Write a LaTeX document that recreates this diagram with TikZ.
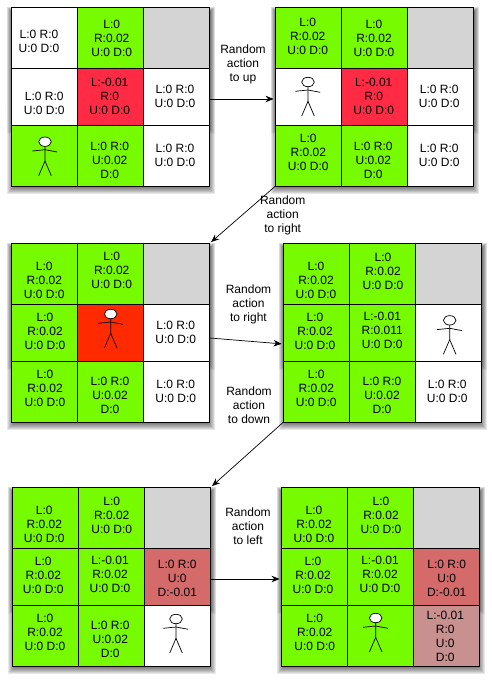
\documentclass[tikz,border=0pt]{standalone}
\usepackage{xcolor}
\usepackage{fontspec}
\setmainfont{Liberation Sans}
\usetikzlibrary{arrows.meta,backgrounds}

\definecolor{rewardgreen}{HTML}{76FB00}
\definecolor{crimsoncell}{HTML}{FF2B45}
\definecolor{hotcell}{HTML}{FF2A00}
\definecolor{pinkcell}{HTML}{D46A6A}
\definecolor{dustycell}{HTML}{C99090}
\definecolor{wallgray}{HTML}{D4D4D4}

\tikzset{
	cellbox/.style={draw,fill=white,line width=0.9pt,minimum width=66pt,inner sep=0pt},
	rowa/.style={cellbox,minimum height=61pt},
	rowb/.style={cellbox,minimum height=57pt},
	rowc/.style={cellbox,minimum height=60.5pt},
	celltext/.style={align=center,inner sep=0pt,font=\fontsize{12}{14}\selectfont},
	actionlabel/.style={align=center,inner sep=0pt,font=\fontsize{12}{14}\selectfont},
	actionarrow/.style={-{Stealth[length=8pt,width=6.5pt]},line width=0.7pt,shorten >=1.5pt},
	stickman/.pic={
		\draw[line width=0.7pt] (0,4.7) -- (0,19.3) -- (-6.3,34);
		\draw[line width=0.7pt] (0,19.3) -- (6.3,34);
		\draw[line width=0.7pt] (-12.7,9.3) -- (0,8) -- (12.2,10.3);
		\draw[line width=0.7pt,fill=white] (0,0) ellipse (6.3 and 4.7);
	}
}

% one cell of a grid: name, style, centre, text centre, text
\newcommand{\gridcell}[5]{%
	\node[#2] (#1) at (#3) {};
	\node[celltext] (#1t) at (#4) {#5};
}

% soft shadow under a block of cells
\newcommand{\gridshadow}[3]{%
	\begin{scope}[on background layer]
		\foreach \d in {-4,...,3} {
			\fill[black,opacity=#3] ([xshift=\d pt,yshift={-4pt-(\d pt)}]#1.north west)
				rectangle ([xshift={1pt-(\d pt)},yshift={-4pt+(\d pt)}]#2.south east);
		}
	\end{scope}
}

\begin{document}
\begin{tikzpicture}[x=1pt,y=-1pt]

\useasboundingbox (0,0) rectangle (492,682);

% first grid
\gridcell{a11}{rowa}{44.5,38}{39,41.7}{L:0 R:0\\U:0 D:0}
\gridcell{a12}{rowa,fill=rewardgreen}{110.5,38}{111.7,38.7}{L:0\\R:0.02\\U:0 D:0}
\gridcell{a13}{rowa,fill=wallgray}{176.5,38}{176.5,38}{}
\gridcell{a21}{rowb}{44.5,97}{44.3,103.7}{L:0 R:0\\U:0 D:0}
\gridcell{a22}{rowb,fill=crimsoncell}{110.5,97}{109.7,96.7}{L:-0.01\\R:0\\U:0 D:0}
\gridcell{a23}{rowb}{176.5,97}{175,96.7}{L:0 R:0\\U:0 D:0}
\gridcell{a31}{rowc,fill=rewardgreen}{44.5,155.75}{44.5,155.75}{}
\gridcell{a32}{rowc,fill=rewardgreen}{110.5,155.75}{109.7,160}{L:0 R:0\\U:0.02\\D:0}
\gridcell{a33}{rowc}{176.5,155.75}{175,155.7}{L:0 R:0\\U:0 D:0}
\pic at (45,141.7) {stickman};
\gridshadow{a11}{a33}{0.09}
\gridshadow{a11}{a23}{0.05}

% second grid
\gridcell{b11}{rowa,fill=rewardgreen}{308.5,38}{307.7,36.7}{L:0\\R:0.02\\U:0 D:0}
\gridcell{b12}{rowa,fill=rewardgreen}{374.5,38}{374,38.7}{L:0\\R:0.02\\U:0 D:0}
\gridcell{b13}{rowa,fill=wallgray}{440.5,38}{440.5,38}{}
\gridcell{b21}{rowb}{308.5,97}{308.5,97}{}
\gridcell{b22}{rowb,fill=crimsoncell}{374.5,97}{373.7,96.7}{L:-0.01\\R:0\\U:0 D:0}
\gridcell{b23}{rowb}{440.5,97}{439.3,96.7}{L:0 R:0\\U:0 D:0}
\gridcell{b31}{rowc,fill=rewardgreen}{308.5,155.75}{308.3,152.7}{L:0\\R:0.02\\U:0 D:0}
\gridcell{b32}{rowc,fill=rewardgreen}{374.5,155.75}{373.3,160}{L:0 R:0\\U:0.02\\D:0}
\gridcell{b33}{rowc}{440.5,155.75}{439.3,155.7}{L:0 R:0\\U:0 D:0}
\pic at (308,82) {stickman};
\gridshadow{b11}{b33}{0.09}
\gridshadow{b11}{b23}{0.05}

% third grid
\gridcell{c11}{rowa,fill=rewardgreen}{44.5,274}{44.3,280.7}{L:0\\R:0.02\\U:0 D:0}
\gridcell{c12}{rowa,fill=rewardgreen}{110.5,274}{111.7,270.7}{L:0\\R:0.02\\U:0 D:0}
\gridcell{c13}{rowa,fill=wallgray}{176.5,274}{176.5,274}{}
\gridcell{c21}{rowb,fill=rewardgreen}{44.5,333}{45,331.7}{L:0\\R:0.02\\U:0 D:0}
\gridcell{c22}{rowb,fill=hotcell}{110.5,333}{110.5,333}{}
\gridcell{c23}{rowb}{176.5,333}{175.7,332.7}{L:0 R:0\\U:0 D:0}
\gridcell{c31}{rowc,fill=rewardgreen}{44.5,391.75}{45,388.7}{L:0\\R:0.02\\U:0 D:0}
\gridcell{c32}{rowc,fill=rewardgreen}{110.5,391.75}{110,395.7}{L:0 R:0\\U:0.02\\D:0}
\gridcell{c33}{rowc}{176.5,391.75}{175.7,391.7}{L:0 R:0\\U:0 D:0}
\pic at (110.7,314) {stickman};
\gridshadow{c11}{c33}{0.09}
\gridshadow{c11}{c23}{0.05}

% fourth grid
\gridcell{d11}{rowa,fill=rewardgreen}{316.5,274}{316,280.7}{L:0\\R:0.02\\U:0 D:0}
\gridcell{d12}{rowa,fill=rewardgreen}{382.5,274}{383,271.7}{L:0\\R:0.02\\U:0 D:0}
\gridcell{d13}{rowa,fill=wallgray}{448.5,274}{448.5,274}{}
\gridcell{d21}{rowb,fill=rewardgreen}{316.5,333}{315,331.7}{L:0\\R:0.02\\U:0 D:0}
\gridcell{d22}{rowb,fill=rewardgreen}{382.5,333}{382.3,330.7}{L:-0.01\\R:0.011\\U:0 D:0}
\gridcell{d23}{rowb}{448.5,333}{448.5,333}{}
\gridcell{d31}{rowc,fill=rewardgreen}{316.5,391.75}{316.3,388.7}{L:0\\R:0.02\\U:0 D:0}
\gridcell{d32}{rowc,fill=rewardgreen}{382.5,391.75}{382,395.7}{L:0 R:0\\U:0.02\\D:0}
\gridcell{d33}{rowc}{448.5,391.75}{447.3,391.7}{L:0 R:0\\U:0 D:0}
\pic at (449.7,320.3) {stickman};
\gridshadow{d11}{d33}{0.09}
\gridshadow{d11}{d23}{0.05}

% fifth grid
\gridcell{e11}{rowa,fill=rewardgreen}{45.5,518}{44.3,524.7}{L:0\\R:0.02\\U:0 D:0}
\gridcell{e12}{rowa,fill=rewardgreen}{111.5,518}{111.7,515.7}{L:0\\R:0.02\\U:0 D:0}
\gridcell{e13}{rowa,fill=wallgray}{177.5,518}{177.5,518}{}
\gridcell{e21}{rowb,fill=rewardgreen}{45.5,577}{43.3,575.7}{L:0\\R:0.02\\U:0 D:0}
\gridcell{e22}{rowb,fill=rewardgreen}{111.5,577}{110,574.7}{L:-0.01\\R:0.02\\U:0 D:0}
\gridcell{e23}{rowb,fill=pinkcell}{177.5,577}{177.3,578.7}{L:0 R:0\\U:0\\D:-0.01}
\gridcell{e31}{rowc,fill=rewardgreen}{45.5,635.75}{45,632.7}{L:0\\R:0.02\\U:0 D:0}
\gridcell{e32}{rowc,fill=rewardgreen}{111.5,635.75}{110.3,639.7}{L:0 R:0\\U:0.02\\D:0}
\gridcell{e33}{rowc}{177.5,635.75}{177.5,635.75}{}
\pic at (176,619) {stickman};
\gridshadow{e11}{e33}{0.09}
\gridshadow{e11}{e23}{0.05}

% sixth grid
\gridcell{f11}{rowa,fill=rewardgreen}{314.5,518}{314,524.7}{L:0\\R:0.02\\U:0 D:0}
\gridcell{f12}{rowa,fill=rewardgreen}{380.5,518}{381,515.7}{L:0\\R:0.02\\U:0 D:0}
\gridcell{f13}{rowa,fill=wallgray}{446.5,518}{446.5,518}{}
\gridcell{f21}{rowb,fill=rewardgreen}{314.5,577}{313,575.7}{L:0\\R:0.02\\U:0 D:0}
\gridcell{f22}{rowb,fill=rewardgreen}{380.5,577}{380,574.7}{L:-0.01\\R:0.02\\U:0 D:0}
\gridcell{f23}{rowb,fill=pinkcell}{446.5,577}{446.7,578.7}{L:0 R:0\\U:0\\D:-0.01}
\gridcell{f31}{rowc,fill=rewardgreen}{314.5,635.75}{314.7,632.7}{L:0\\R:0.02\\U:0 D:0}
\gridcell{f32}{rowc,fill=rewardgreen}{380.5,635.75}{380.5,635.75}{}
\gridcell{f33}{rowc,fill=dustycell}{446.5,635.75}{445.3,636.7}{L:-0.01\\R:0\\U:0\\D:0}
\pic at (375.7,618) {stickman};
\gridshadow{f11}{f33}{0.09}
\gridshadow{f11}{f23}{0.05}

% actions between the grids
\draw[actionarrow] ([yshift=-2pt]a23.east) -- ([yshift=-2pt]b21.west);
\draw[actionarrow] (b31.south west) -- (c13.north east);
\draw[actionarrow] ([yshift=-5pt]c23.east) -- ([yshift=-11pt]d21.west);
\draw[actionarrow] (d31.south west) -- (e13.north east);
\draw[actionarrow] ([yshift=-2pt]e23.east) -- ([yshift=-2pt]f21.west);

\node[actionlabel] (up) at (243,64) {Random\\action\\to up};
\node[actionlabel] (right1) at (282.7,215.7) {Random\\action\\to right};
\node[actionlabel] (right2) at (248.5,304) {Random\\action\\to right};
\node[actionlabel] (down) at (249,405.7) {Random\\action\\to down};
\node[actionlabel] (left) at (248,526) {Random\\action\\to left};

\end{tikzpicture}
\end{document}
